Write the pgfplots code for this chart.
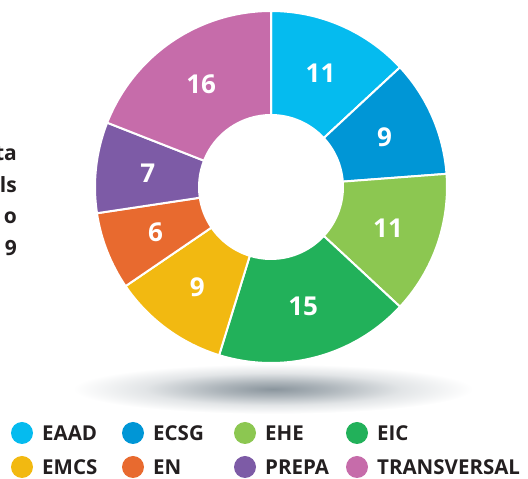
\documentclass[border=0pt]{standalone}
\usepackage{pgfplots}
\usepackage{pgfplotstable}
\pgfplotsset{compat=1.18}
\usepackage{fontspec}
\setmainfont{Open Sans}
\definecolor{ink}{HTML}{231F20}
% one colour per school, in table order
\definecolor{c0}{HTML}{05BBEF}% EAAD
\definecolor{c1}{HTML}{0096D6}% ECSG
\definecolor{c2}{HTML}{8CC751}% EHE
\definecolor{c3}{HTML}{22B15A}% EIC
\definecolor{c4}{HTML}{F2B911}% EMCS
\definecolor{c5}{HTML}{E86A2F}% EN
\definecolor{c6}{HTML}{7D5BA6}% PREPA
\definecolor{c7}{HTML}{C66CAA}% TRANSVERSAL
\definecolor{shadowgray}{HTML}{8A959D}
\pgfdeclareradialshading{softshadow}{\pgfpoint{0bp}{0bp}}{%
  color(0bp)=(shadowgray); color(7bp)=(shadowgray!70!white);
  color(16bp)=(shadowgray!25!white); color(25bp)=(white); color(50bp)=(white)}

\pgfplotstableread{
name value
EAAD 11
ECSG 9
EHE 11
EIC 15
EMCS 9
EN 6
PREPA 7
TRANSVERSAL 16
}\piedata

\begin{document}
\begin{tikzpicture}
% total and start / end / middle angles of each wedge
\pgfplotstablegetrowsof{\piedata}
\pgfmathtruncatemacro\lastrow{\pgfplotsretval-1}
\gdef\total{0}
\foreach \i in {0,...,\lastrow}{%
  \pgfplotstablegetelem{\i}{value}\of\piedata
  \pgfmathparse{\total+\pgfplotsretval}\xdef\total{\pgfmathresult}%
}
\gdef\cur{90}
\foreach \i in {0,...,\lastrow}{%
  \pgfplotstablegetelem{\i}{value}\of\piedata
  \expandafter\xdef\csname vv\i\endcsname{\pgfplotsretval}%
  \pgfmathparse{\cur-360*\pgfplotsretval/\total}\xdef\nxt{\pgfmathresult}%
  \expandafter\xdef\csname aS\i\endcsname{\cur}%
  \expandafter\xdef\csname aE\i\endcsname{\nxt}%
  \pgfmathparse{(\cur+\nxt)/2}%
  \expandafter\xdef\csname aM\i\endcsname{\pgfmathresult}%
  \xdef\cur{\nxt}%
}
\begin{axis}[
    x=1pt, y=1pt,
    xmin=0, xmax=528, ymin=0, ymax=479,
    scale only axis, hide axis, clip=false,
    anchor=south west, at={(0,0)},
]
% soft shadow under the ring
\shade[shading=softshadow]
    (axis cs:273,90) ellipse [x radius=200pt, y radius=25pt];
\coordinate (C) at (axis cs:271,292);
\pgfplotsinvokeforeach{0,...,7}{
  \fill[c#1, draw=white, line width=2pt]
    ([shift={(\csname aS#1\endcsname:176pt)}]C)
    arc[start angle=\csname aS#1\endcsname, end angle=\csname aE#1\endcsname, radius=176pt]
    -- ([shift={(\csname aE#1\endcsname:72pt)}]C)
    arc[start angle=\csname aE#1\endcsname, end angle=\csname aS#1\endcsname, radius=72pt]
    -- cycle;
  \node[text=white, font=\fontsize{26}{28}\selectfont\bfseries]
    at ([shift={(\csname aM#1\endcsname:124pt)}]C) {\csname vv#1\endcsname};
}
% title text, cut by the left edge
\node[anchor=base east, inner sep=0pt, text=ink, font=\fontsize{21}{24}\selectfont\bfseries] at (axis cs:17,318) {ta};
\node[anchor=base east, inner sep=0pt, text=ink, font=\fontsize{21}{24}\selectfont\bfseries] at (axis cs:17,286) {ls};
\node[anchor=base east, inner sep=0pt, text=ink, font=\fontsize{21}{24}\selectfont\bfseries] at (axis cs:17,255) {o};
\node[anchor=base east, inner sep=0pt, text=ink, font=\fontsize{21}{24}\selectfont\bfseries] at (axis cs:17,223) {9};
\end{axis}
% legend (axis units are 1pt from the origin)
\foreach \ci/\lx/\ly/\lab in {0/22/46/EAAD, 1/133/46/ECSG, 2/245/46/EHE, 3/357/46/EIC,
                              4/22/12/EMCS, 5/133/12/EN, 6/245/12/PREPA, 7/357/12/TRANSVERSAL}{
  \fill[c\ci] (\lx pt,\ly pt) circle[radius=11pt];
  \node[anchor=west, text=ink, inner sep=0pt, font=\fontsize{20.5}{22}\selectfont\bfseries]
    at (\lx pt+20pt,\ly pt) {\lab};
}
\pgfresetboundingbox
\path (0,0) rectangle (528pt,479pt);
\end{tikzpicture}
\end{document}
